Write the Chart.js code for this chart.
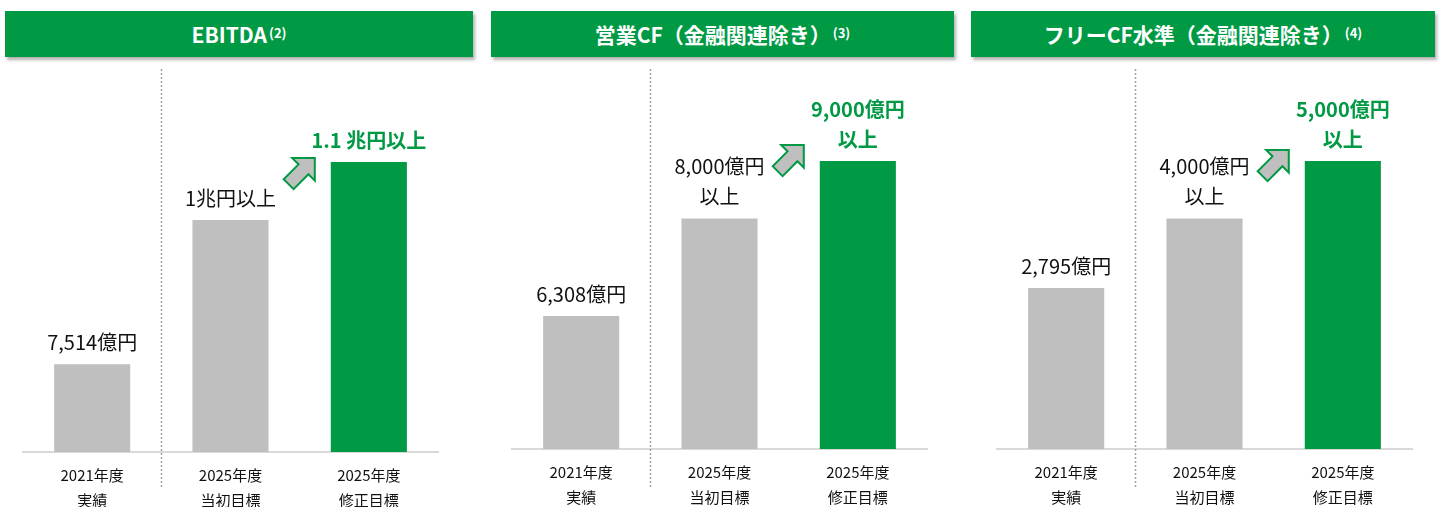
<!DOCTYPE html>
<html lang="ja">
<head>
<meta charset="utf-8">
<script src="https://cdn.jsdelivr.net/npm/chart.js@4.4.1/dist/chart.umd.min.js"></script>
<style>
  html, body { margin: 0; padding: 0; background: #fff; overflow: hidden; }
  body { width: 1446px; height: 507px; position: relative; font-family: "Noto Sans CJK JP", "Noto Sans", sans-serif; }
  .head {
    position: absolute; top: 11px; height: 46px;
    background: #009944; color: #fff;
    font-weight: bold; font-size: 21px;
    display: flex; align-items: center; justify-content: center;
    box-shadow: 2px 3px 3px rgba(0,0,0,0.3);
  }
  .head sup { font-size: 13px; position: relative; top: -2px; vertical-align: top; margin-left: 2px; }
  canvas { position: absolute; top: 60px; }
</style>
</head>
<body>
<div class="head" style="left:5px;width:468px">EBITDA<sup>(2)</sup></div>
<div class="head" style="left:491px;width:463px">営業CF（金融関連除き）<sup>(3)</sup></div>
<div class="head" style="left:971px;width:464px">フリーCF水準（金融関連除き）<sup>(4)</sup></div>

<canvas id="c1" width="460" height="447" style="left:0px"></canvas>
<canvas id="c2" width="460" height="447" style="left:489px"></canvas>
<canvas id="c3" width="460" height="447" style="left:974px"></canvas>

<script>
// categories (two-line tick labels)
const categories = [['2021年度', '実績'], ['2025年度', '当初目標'], ['2025年度', '修正目標']];

// values in 億円
const ebitdaValues = [7514, 10000, 11000];
const opCfValues = [6308, 8000, 9000];
const fcfValues = [2795, 4000, 5000];

// labels over the bars
const ebitdaLabels = [['7,514億円'], ['1兆円以上'], ['1.1 兆円以上']];
const opCfLabels = [['6,308億円'], ['8,000億円', '以上'], ['9,000億円', '以上']];
const fcfLabels = [['2,795億円'], ['4,000億円', '以上'], ['5,000億円', '以上']];

const GREEN = '#009944';
const GRAY = '#bfbfbf';

Chart.defaults.font.family = '"Noto Sans CJK JP", "Noto Sans", sans-serif';

const panels = [
  { id: 'c1', values: ebitdaValues, labels: ebitdaLabels, min: 6000, max: 11000, top: 102, axisH: 55, arrowDy: -4 },
  { id: 'c2', values: opCfValues, labels: opCfLabels, min: 4000, max: 9000, top: 101, axisH: 58, arrowDy: -16 },
  { id: 'c3', values: fcfValues, labels: fcfLabels, min: 0, max: 5000, top: 101, axisH: 58, arrowDy: -11 }
];

// value labels, dotted separator, and the arrow
const decor = {
  id: 'decor',
  afterDatasetsDraw(chart, args, opts) {
    const ctx = chart.ctx;
    const bars = chart.getDatasetMeta(0).data;
    const x = chart.scales.x;

    // dotted separator between first and second category
    const sx = Math.round((x.getPixelForValue(0) + x.getPixelForValue(1)) / 2) + 0.5;
    ctx.save();
    ctx.strokeStyle = '#a0a0a0';
    ctx.lineWidth = 1.5;
    ctx.setLineDash([2, 2]);
    ctx.beginPath();
    ctx.moveTo(sx, 9);
    ctx.lineTo(sx, chart.height - 20);
    ctx.stroke();
    ctx.restore();

    // labels
    ctx.save();
    ctx.textAlign = 'center';
    ctx.textBaseline = 'middle';
    bars.forEach((bar, i) => {
      const lines = opts.labels[i];
      const last = i === 2;
      ctx.fillStyle = last ? GREEN : '#111';
      ctx.font = (last ? 'bold ' : '') + '20px "Noto Sans CJK JP"';
      for (let k = 0; k < lines.length; k++) {
        const y = bar.y - 22 - (lines.length - 1 - k) * 30;
        ctx.fillText(lines[k], bar.x, y);
      }
    });
    ctx.restore();

    // block arrow pointing up-right
    const b = bars[2];
    const tipX = b.x - b.width / 2 - 16;
    const tipY = b.y + opts.arrowDy;
    const L = 37, h = 16, H = 32, w = 14;
    const u = [Math.SQRT1_2, -Math.SQRT1_2];
    const n = [Math.SQRT1_2, Math.SQRT1_2];
    const pt = (a, c) => [tipX + a * u[0] + c * n[0], tipY + a * u[1] + c * n[1]];
    const pts = [pt(0, 0), pt(-h, H / 2), pt(-h, w / 2), pt(-L, w / 2), pt(-L, -w / 2), pt(-h, -w / 2), pt(-h, -H / 2)];
    ctx.save();
    ctx.beginPath();
    pts.forEach((p, k) => k ? ctx.lineTo(p[0], p[1]) : ctx.moveTo(p[0], p[1]));
    ctx.closePath();
    ctx.fillStyle = GRAY;
    ctx.fill();
    ctx.strokeStyle = GREEN;
    ctx.lineWidth = 2;
    ctx.lineJoin = 'miter';
    ctx.stroke();
    ctx.restore();
  }
};

panels.forEach(p => {
  new Chart(document.getElementById(p.id), {
    type: 'bar',
    data: {
      labels: categories,
      datasets: [{
        data: p.values,
        backgroundColor: [GRAY, GRAY, GREEN],
        borderWidth: 0,
        barPercentage: 0.55,
        categoryPercentage: 1
      }]
    },
    plugins: [decor],
    options: {
      responsive: false,
      animation: false,
      layout: { padding: { left: 23, right: 22, top: p.top, bottom: 0 } },
      plugins: {
        legend: { display: false },
        tooltip: { enabled: false },
        decor: { labels: p.labels, arrowDy: p.arrowDy }
      },
      scales: {
        x: {
          grid: { display: false, drawTicks: false },
          border: { display: true, color: '#d9d9d9', width: 2 },
          ticks: {
            color: '#111',
            padding: 11,
            font: { size: 15, lineHeight: 1.67 },
            maxRotation: 0
          },
          afterFit: (axis) => { axis.height = p.axisH; }
        },
        y: {
          display: false,
          min: p.min,
          max: p.max
        }
      }
    }
  });
});
</script>
</body>
</html>
